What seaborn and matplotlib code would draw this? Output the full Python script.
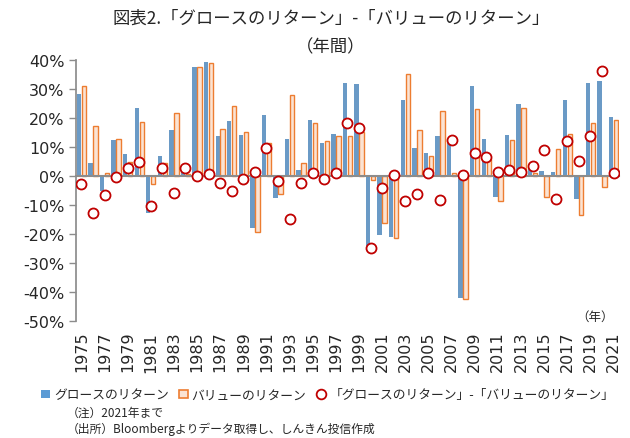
import matplotlib
matplotlib.use("Agg")
import matplotlib.pyplot as plt
from matplotlib.lines import Line2D
from matplotlib.patches import Patch
import seaborn as sns
import pandas as pd
import numpy as np

# values (% annual return)
years = list(range(1975, 2022))
growth = [28.3, 4.4, -5.1, 12.3, 7.7, 23.3, -12.6, 6.9, 15.9, 3.6,
          37.5, 39.2, 13.8, 19.0, 14.1, -17.8, 20.9, -7.7, 12.9, 2.1,
          19.2, 11.3, 14.5, 32.1, 31.7, -24.0, -20.2, -21.0, 26.3, 9.5,
          7.9, 13.7, 11.7, -42.1, 30.9, 12.8, -7.1, 14.3, 24.8, 4.0,
          1.7, 1.3, 26.3, -7.8, 32.1, 32.6, 20.3]
value = [31.1, 17.1, 0.9, 12.6, 4.7, 18.5, -2.8, 4.4, 21.8, 0.8,
         37.5, 38.9, 16.2, 24.1, 15.3, -19.4, 11.3, -6.3, 27.8, 4.6,
         18.4, 12.2, 13.7, 13.7, 15.1, -1.4, -16.3, -21.5, 35.2, 16.0,
         7.0, 22.3, 1.0, -42.5, 23.2, 6.0, -8.5, 12.3, 23.3, 1.0,
         -7.4, 9.3, 14.4, -13.3, 18.4, -3.7, 19.4]
diff = [-2.8, -12.8, -6.6, -0.5, 2.8, 4.9, -10.2, 2.6, -5.9, 2.8,
        0.1, 0.6, -2.5, -5.1, -1.1, 1.4, 9.5, -1.6, -14.7, -2.4,
        0.9, -0.9, 1.0, 18.4, 16.6, -24.9, -4.0, 0.3, -8.7, -6.3,
        1.0, -8.3, 12.3, 0.2, 7.9, 6.6, 1.4, 2.1, 1.5, 3.6,
        8.9, -8.0, 12.2, 5.3, 13.9, 36.3, 1.1]

lab_g = "グロースのリターン"
lab_v = "バリューのリターン"
lab_d = "「グロースのリターン」-「バリューのリターン」"

BLUE = "#5B9BD5"
ORANGE = "#ED7D31"
PEACH = "#FBE3D3"
RED = "#C00000"
GRAY = "#8C8C8C"

sns.set_theme(style="white")
plt.rcParams["font.family"] = ["Noto Sans CJK JP", "DejaVu Sans"]

df = pd.DataFrame({"year": [str(y) for y in years] * 2,
                   "ret": growth + value,
                   "series": [lab_g] * len(years) + [lab_v] * len(years)})

fig = plt.figure(figsize=(6.3, 4.39), dpi=100)
ax = fig.add_axes([0.120, 0.2665, 0.863, 0.5945])

sns.barplot(data=df, x="year", y="ret", hue="series", palette=[BLUE, ORANGE],
            width=0.86, gap=0.12, legend=False, ax=ax)
for p in ax.containers[1]:
    p.set_facecolor(PEACH)
    p.set_edgecolor(ORANGE)
    p.set_linewidth(1.0)
for p in ax.containers[0]:
    p.set_edgecolor("none")

pos = np.arange(len(years))
sns.scatterplot(x=pos, y=diff, marker="o", s=52, facecolor="white",
                edgecolor=RED, linewidth=1.3, zorder=5, ax=ax)

ax.set_xlim(-0.5, len(years) - 0.5)
ax.set_ylim(-50, 40)
ax.set_yticks(range(-50, 41, 10))
ax.set_yticklabels([f"{v}%" for v in range(-50, 41, 10)],
                   family=["DejaVu Sans"], fontsize=11.5)
ax.set_xlabel("")
ax.set_ylabel("")

# zero line with category boundary ticks
ax.spines["bottom"].set_position(("data", 0))
ax.spines["bottom"].set_color(GRAY)
ax.spines["bottom"].set_linewidth(1.5)
ax.spines["left"].set_color(GRAY)
ax.spines["top"].set_visible(False)
ax.spines["right"].set_visible(False)
ax.set_xticks(pos + 0.5, minor=True)
ax.tick_params(axis="x", which="major", length=0, labelbottom=False)
ax.tick_params(axis="x", which="minor", length=4, width=1.2, color=GRAY, direction="out")
ax.tick_params(axis="y", length=5, width=1, color=GRAY, left=True, pad=3)

# year labels at the bottom
sec = ax.secondary_xaxis("bottom")
sec.set_xticks(pos[::2])
sec.set_xticklabels([str(y) for y in years[::2]], rotation=90,
                    family=["DejaVu Sans"], fontsize=11.5)
sec.spines["bottom"].set_visible(False)
sec.tick_params(length=0, pad=7)

fig.text(0.975, 0.262, "（年）", ha="right", va="bottom", fontsize=9)

fig.text(0.525, 0.958, "図表2.「グロースのリターン」-「バリューのリターン」",
         ha="center", va="center", fontsize=12.5)
fig.text(0.525, 0.892, "（年間）", ha="center", va="center", fontsize=12.5)

handles = [Patch(facecolor=BLUE, edgecolor="none"),
           Patch(facecolor=PEACH, edgecolor=ORANGE, linewidth=1.2),
           Line2D([], [], marker="o", linestyle="none", markersize=7,
                  markerfacecolor="white", markeredgecolor=RED, markeredgewidth=1.3)]
fig.legend(handles, [lab_g, lab_v, lab_d], loc="center", bbox_to_anchor=(0.52, 0.098),
           ncol=3, frameon=False, fontsize=9.2, handlelength=0.7, handleheight=0.7,
           handletextpad=0.3, columnspacing=0.8, borderpad=0.1)

fig.text(0.106, 0.059, "（注）2021年まで", ha="left", va="center", fontsize=8.5)
fig.text(0.106, 0.022, "（出所）Bloombergよりデータ取得し、しんきん投信作成",
         ha="left", va="center", fontsize=8.5)

fig.savefig("out.png", dpi=100)
